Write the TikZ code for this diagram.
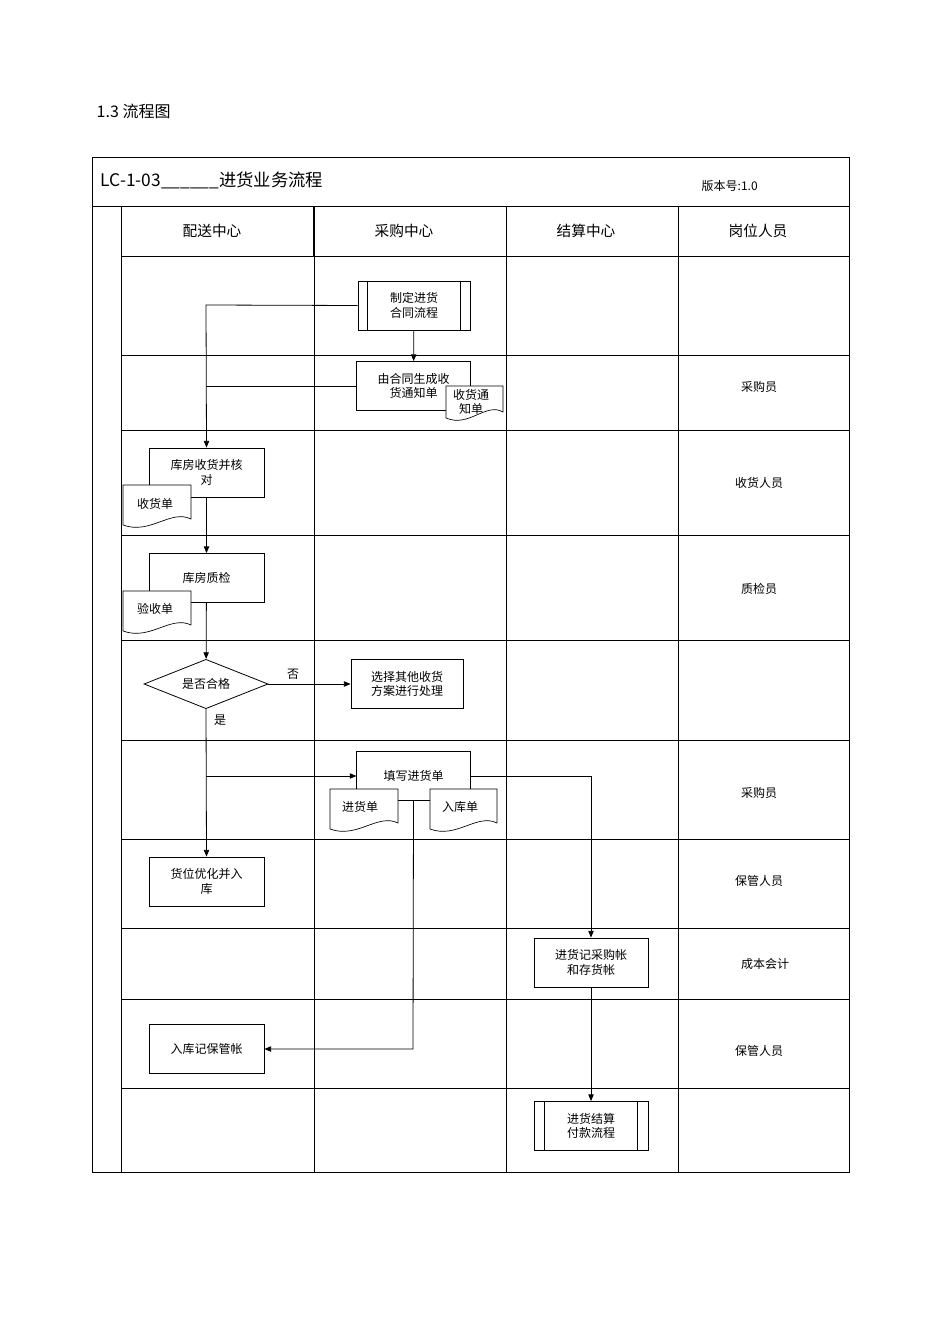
\documentclass[tikz,border=0pt]{standalone}
\usepackage{fontspec}
\setmainfont{Noto Sans CJK SC}
\usetikzlibrary{shapes.geometric,arrows.meta,calc}
\newcommand\docshp[4]{%
 \draw[fill=white,line width=0.5pt] (#1,#4) -- (#1,#2) -- (#3,#2) -- ({#3},{#4-6}) .. controls ({#3-0.3*(#3-#1)},{#4-16}) and ({#1+0.4*(#3-#1)},{#4+10}) .. (#1,#4);}
\begin{document}
\begin{tikzpicture}[x=0.75pt,y=-0.75pt,
 box/.style={draw,line width=0.6pt,fill=white,minimum width=86.25pt,minimum height=36.75pt,align=center,font=\fontsize{9}{11}\selectfont,inner sep=1pt},
 lbl/.style={font=\fontsize{9}{11}\selectfont,align=center,inner sep=0pt},
 hd/.style={font=\fontsize{11}{13}\selectfont,inner sep=0pt},
 ar/.style={-{Triangle[length=5pt,width=4pt]},line width=0.6pt},
 ln/.style={line width=0.6pt}]
\useasboundingbox (0,0) rectangle (950,1344);
\node[anchor=west,font=\fontsize{12}{14}\selectfont] (t) at (92,111) {1.3 流程图};
% table
\draw[line width=0.6pt] (92,157) rectangle (849,1172);
\draw[line width=0.6pt] (92,206) -- (849,206);
\draw[line width=0.6pt] (121,206) -- (121,1172);
\draw[line width=1.2pt] (314,206) -- (314,256);
\foreach \x in {314,506,678} \draw[line width=0.6pt] (\x,206) -- (\x,1172);
\foreach \y in {256,355,430,535,640,740,839,928,999,1088} \draw[line width=0.6pt] (121,\y) -- (849,\y);
\node[anchor=west,font=\fontsize{13}{15}\selectfont] (h0) at (96,180) {LC-1-03\_\_\_\_\_\_进货业务流程};
\node[anchor=west,font=\fontsize{9}{11}\selectfont] (h1) at (697,186) {版本号:1.0};
\node[hd] (c1) at (212,231) {配送中心};
\node[hd] (c2) at (404,231) {采购中心};
\node[hd] (c3) at (586,231) {结算中心};
\node[hd] (c4) at (758,231) {岗位人员};
\foreach \n/\y/\t in {r1/387/采购员,r2/483/收货人员,r3/589/质检员,r4/793/采购员,r5/881/保管人员,r7/1051/保管人员}
  \node[lbl] (\n) at (759,\y) {\t};
\node[lbl] (r6) at (765,964) {成本会计};
% nodes
\node[box,minimum width=84pt] (a) at (414,305.5) {制定进货\\合同流程};
\draw[ln] ([xshift=7.5pt]a.north west) -- ([xshift=7.5pt]a.south west);
\draw[ln] ([xshift=-7.5pt]a.north east) -- ([xshift=-7.5pt]a.south east);
\node[box,minimum width=85pt] (b) at (413.5,386) {由合同生成收\\货通知单};
\node[box] (c) at (206.5,472.5) {库房收货并核\\对};
\node[box] (d) at (206.5,578) {库房质检};
\node[diamond,draw,line width=0.6pt,minimum width=93pt,minimum height=37pt,inner sep=0pt,font=\fontsize{9}{11}\selectfont,aspect=2.5] (e) at (206,684) {是否合格};
\node[box,minimum width=84pt] (f) at (407,684) {选择其他收货\\方案进行处理};
\node[box,minimum width=85pt] (g) at (413.5,776) {填写进货单};
\node[box] (h) at (206.5,881.5) {货位优化并入\\库};
\node[box,minimum width=85.5pt] (i) at (591,962.5) {进货记采购帐\\和存货帐};
\node[box] (j) at (206.5,1049) {入库记保管帐};
\node[box,minimum width=85.5pt] (k) at (591,1126) {进货结算\\付款流程};
\draw[ln] ([xshift=8pt]k.north west) -- ([xshift=8pt]k.south west);
\draw[ln] ([xshift=-8pt]k.north east) -- ([xshift=-8pt]k.south east);
% documents
\docshp{446}{386}{503}{418}
\node[lbl] (db) at (471,402) {收货通\\知单};
\docshp{123}{485}{191}{525}
\node[lbl] (dc) at (155,504) {收货单};
\docshp{123}{591}{191}{631}
\node[lbl] (dd) at (155,609) {验收单};
\docshp{330}{789}{398}{829}
\node[lbl] (dg1) at (360,807) {进货单};
\docshp{430}{789}{497}{829}
\node[lbl] (dg2) at (460,807) {入库单};
% connectors
\coordinate (p1) at (206,305);
\coordinate (p2) at (206,386);
\coordinate (p3) at (206,776);
\coordinate (p4) at (591,776);
\coordinate (p5) at (413,1049);
\draw[ar] (a) -- (b);
\draw[ar] (a.west) -- (p1) -- (c.north);
\draw[ln] (b.west) -- (p2);
\draw[ar] (c) -- (d);
\draw[ar] (d) -- (e);
\draw[ar] (e) -- node[above,lbl,pos=0.3,yshift=3pt]{否} (f);
\draw[ar] (e.south) -- (h.north);
\node[lbl] (yes) at (220,720) {是};
\draw[ar] (p3) -- (g.west);
\draw[ar] (g.east) -- (p4) -- (i.north);
\draw[ar] (g.south) -- (p5) -- (j.east);
\draw[ar] (i) -- (k);
\end{tikzpicture}
\end{document}
